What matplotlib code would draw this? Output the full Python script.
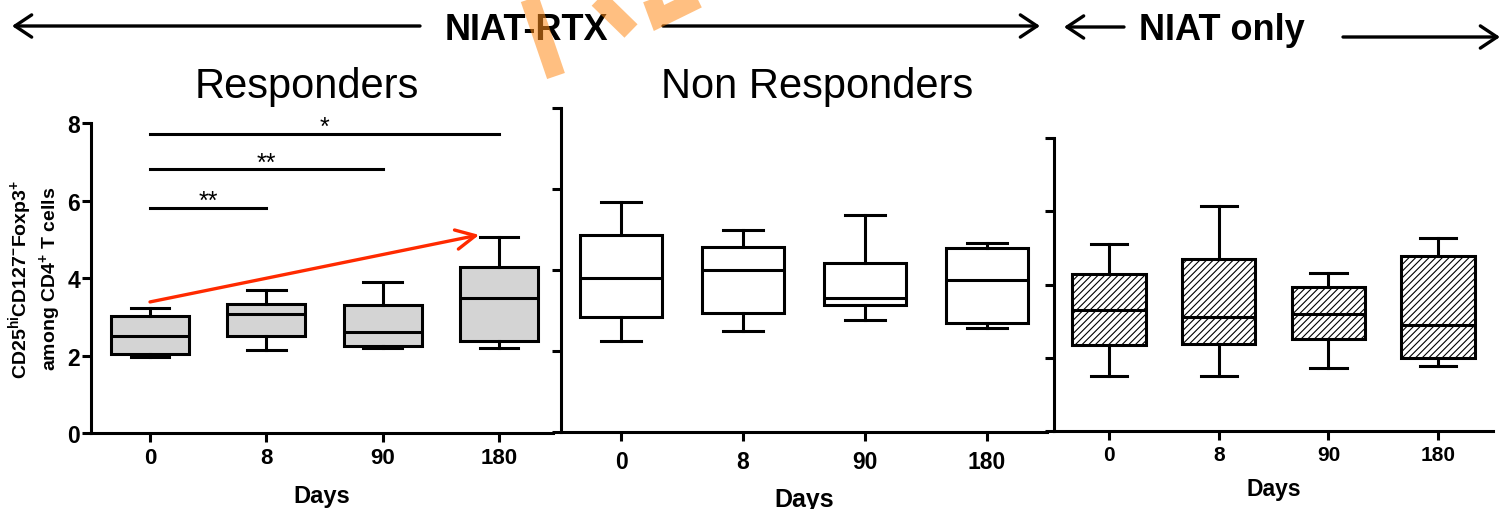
import matplotlib
matplotlib.use('Agg')
import matplotlib.pyplot as plt
from matplotlib.lines import Line2D
from matplotlib.patches import FancyArrowPatch

plt.rcParams['font.family'] = ['Liberation Sans', 'DejaVu Sans']
plt.rcParams['mathtext.fontset'] = 'custom'
plt.rcParams['mathtext.rm'] = 'Liberation Sans'
plt.rcParams['mathtext.bf'] = 'Liberation Sans:bold'
plt.rcParams['mathtext.default'] = 'bf'
plt.rcParams['hatch.linewidth'] = 0.8

W, H = 1503, 510

days = ['0', '8', '90', '180']
yticks = [0, 2, 4, 6, 8]

# box statistics: whisker low, q1, median, q3, whisker high
resp_lo = [1.96, 2.16, 2.19, 2.20]
resp_q1 = [2.05, 2.50, 2.25, 2.37]
resp_med = [2.50, 3.08, 2.61, 3.50]
resp_q3 = [3.04, 3.34, 3.30, 4.28]
resp_hi = [3.24, 3.70, 3.91, 5.07]

nonresp_lo = [2.25, 2.50, 2.78, 2.58]
nonresp_q1 = [2.84, 2.95, 3.14, 2.70]
nonresp_med = [3.81, 4.01, 3.31, 3.76]
nonresp_q3 = [4.87, 4.57, 4.19, 4.56]
nonresp_hi = [5.68, 4.99, 5.37, 4.67]

niat_lo = [1.49, 1.49, 1.72, 1.76]
niat_q1 = [2.34, 2.37, 2.51, 1.99]
niat_med = [3.31, 3.12, 3.18, 2.90]
niat_q3 = [4.30, 4.70, 3.94, 4.78]
niat_hi = [5.11, 6.15, 4.31, 5.28]

# significance bars in the responders panel (day 0 -> day index)
sig_to = [1, 2, 3]
sig_y = [5.81, 6.81, 7.73]
sig_label = ['**', '**', '*']

# red trend arrow (day index, value)
trend_start = (0, 3.39)
trend_end = (2.83, 5.12)


def px(x, y):
    # pixel position -> figure fraction
    return x / W, 1 - y / H


def add_panel(left, right, top, bottom):
    return fig.add_axes([left / W, 1 - bottom / H, (right - left) / W, (bottom - top) / H])


def style(ax, xlim, xsize, xpad):
    ax.set_xlim(xlim)
    ax.set_ylim(0, 8)
    ax.set_yticks(yticks)
    ax.set_xticks(range(len(days)))
    ax.set_xticklabels(days, fontweight='bold', fontsize=xsize)
    for s in ['top', 'right']:
        ax.spines[s].set_visible(False)
    for s in ['left', 'bottom']:
        ax.spines[s].set_linewidth(2.2)
    ax.tick_params(width=2.2, length=6.5)
    ax.tick_params(axis='x', pad=xpad)
    ax.tick_params(axis='y', pad=1)


def draw_boxes(ax, lo, q1, med, q3, hi, face, hatch=None):
    stats = [dict(whislo=a, q1=b, med=c, q3=d, whishi=e, fliers=[])
             for a, b, c, d, e in zip(lo, q1, med, q3, hi)]
    ax.bxp(stats, positions=range(len(stats)), widths=0.67, capwidths=0.33,
           patch_artist=True, showfliers=False, manage_ticks=False,
           boxprops=dict(facecolor=face, edgecolor='k', linewidth=2.2,
                         hatch=hatch, joinstyle='miter'),
           medianprops=dict(color='k', linewidth=2.2),
           whiskerprops=dict(color='k', linewidth=2.2),
           capprops=dict(color='k', linewidth=2.2))


fig = plt.figure(figsize=(W / 100, H / 100), dpi=100)

# Responders
ax1 = add_panel(90.7, 553, 124.3, 434.3)
draw_boxes(ax1, resp_lo, resp_q1, resp_med, resp_q3, resp_hi, '#d4d4d4')
style(ax1, (-0.51, 3.465), 16, 3.6)
ax1.set_yticklabels([str(v) for v in yticks], fontweight='bold', fontsize=16.5)
ax1.set_ylabel('CD25$^{hi}$CD127$^{-}$Foxp3$^{+}$\namong CD4$^{+}$ T cells',
               fontweight='bold', fontsize=14, labelpad=3)
ax1.set_xlabel('Days', fontweight='bold', fontsize=17)
ax1.xaxis.set_label_coords(0.5, -0.163)
for j, y, lab in zip(sig_to, sig_y, sig_label):
    ax1.plot([0, j], [y, y], color='k', lw=2.2, clip_on=False)
    ax1.text(j / 2, y, lab, ha='center', va='baseline', fontsize=18)
ax1.annotate('', xy=trend_end, xytext=trend_start,
             arrowprops=dict(arrowstyle='->,head_length=0.7,head_width=0.35',
                             color='#ff2a00', lw=2.4, shrinkA=0, shrinkB=0,
                             mutation_scale=20))

# Non responders
ax2 = add_panel(561, 1047, 109.3, 433.3)
draw_boxes(ax2, nonresp_lo, nonresp_q1, nonresp_med, nonresp_q3, nonresp_hi, 'white')
style(ax2, (-0.492, 3.492), 16.5, 6.5)
ax2.tick_params(axis='y', labelleft=False)
ax2.set_xlabel('Days', fontweight='bold', fontsize=18)
ax2.xaxis.set_label_coords(0.5, -0.169)

# NIAT only
ax3 = add_panel(1054.3, 1493, 139.3, 431.7)
draw_boxes(ax3, niat_lo, niat_q1, niat_med, niat_q3, niat_hi, 'white', hatch='/////')
style(ax3, (-0.499, 3.50), 15, 4)
ax3.tick_params(axis='y', labelleft=False)
ax3.set_xlabel('Days', fontweight='bold', fontsize=16.5)
ax3.xaxis.set_label_coords(0.5, -0.158)

# panel titles and group headers
fig.text(*px(307, 98), 'Responders', fontsize=30, ha='center', va='baseline')
fig.text(*px(817, 98), 'Non Responders', fontsize=30, ha='center', va='baseline')
fig.text(*px(526, 40), 'NIAT-RTX', fontsize=26, fontweight='bold', ha='center', va='baseline')
fig.text(*px(1222, 40), 'NIAT only', fontsize=26, fontweight='bold', ha='center', va='baseline')

header_arrows = [((420, 27), (12, 27)), ((663, 27), (1040, 27)),
                 ((1124, 28), (1064, 28)), ((1343, 38), (1500, 38))]
for a, b in header_arrows:
    fig.add_artist(FancyArrowPatch(px(*a), px(*b), transform=fig.transFigure,
                                   arrowstyle='->,head_length=12,head_width=8',
                                   mutation_scale=1, lw=2.4, color='k',
                                   shrinkA=0, shrinkB=0))

# orange watermark strokes at the top edge
marks = [([527, 556], [-8, 77]), ([590, 631], [-8, 32]), ([649, 659, 718], [-8, 19, -10])]
for xs, ys in marks:
    fig.add_artist(Line2D([x / W for x in xs], [1 - y / H for y in ys],
                          transform=fig.transFigure, color='#ff8c1a', alpha=0.55,
                          lw=13.5, solid_capstyle='butt', solid_joinstyle='miter',
                          zorder=10))

fig.savefig('out.png', dpi=100)
